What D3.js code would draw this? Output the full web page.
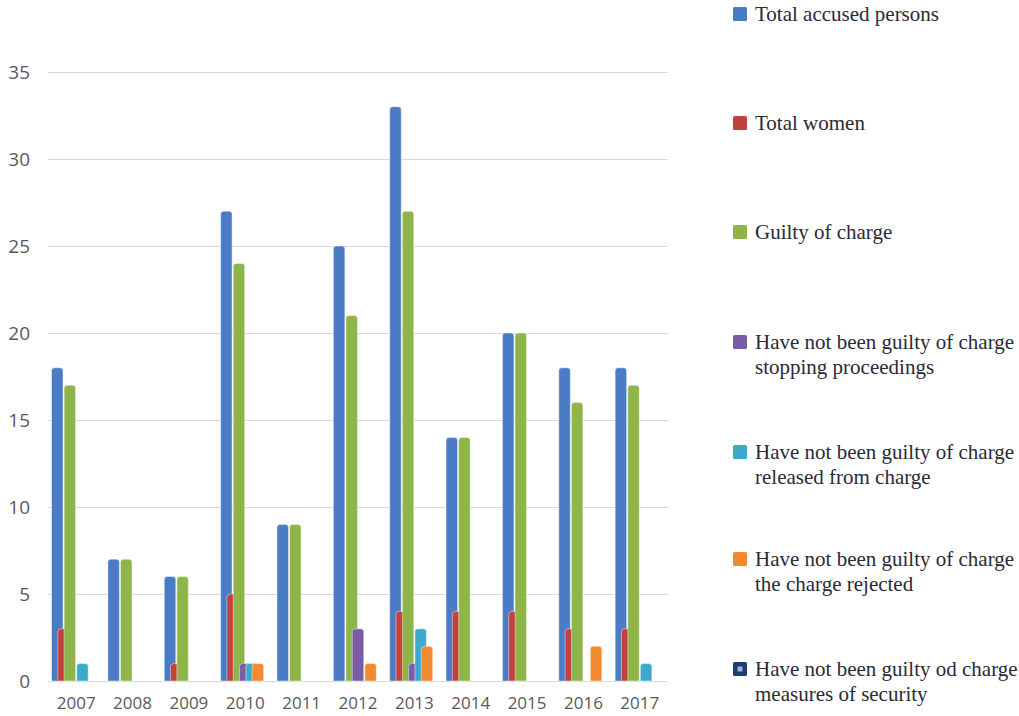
<!DOCTYPE html>
<html>
<head>
<meta charset="utf-8">
<script src="https://cdn.jsdelivr.net/npm/d3@7"></script>
<style>
  html, body { margin: 0; padding: 0; background: #fff; }
  svg { display: block; }
</style>
</head>
<body>
<svg id="chart" width="1019" height="716"></svg>
<script>
// Accused persons by year and outcome of the charge
const years = ["2007", "2008", "2009", "2010", "2011", "2012", "2013", "2014", "2015", "2016", "2017"];

const seriesNames = [
  ["Total accused persons"],
  ["Total women"],
  ["Guilty of charge"],
  ["Have not been guilty of charge", "stopping proceedings"],
  ["Have not been guilty of charge", "released from charge"],
  ["Have not been guilty of charge", "the charge rejected"],
  ["Have not been guilty od charge", "measures of security"]
];

const totalAccused   = [18, 7, 6, 27, 9, 25, 33, 14, 20, 18, 18];
const totalWomen     = [3, 0, 1, 5, 0, 0, 4, 4, 4, 3, 3];
const guilty         = [17, 7, 6, 24, 9, 21, 27, 14, 20, 16, 17];
const stopped        = [0, 0, 0, 1, 0, 3, 1, 0, 0, 0, 0];
const released       = [1, 0, 0, 1, 0, 0, 3, 0, 0, 0, 1];
const rejected       = [0, 0, 0, 1, 0, 1, 2, 0, 0, 2, 0];
const securityMeasures = [0, 0, 0, 0, 0, 0, 0, 0, 0, 0, 0];

const yTicks = [0, 5, 10, 15, 20, 25, 30, 35];

const seriesValues = [totalAccused, totalWomen, guilty, stopped, released, rejected, securityMeasures];
const colors = ["#4a7bc4", "#c3413c", "#8fb54a", "#7a5ca5", "#3fa9cc", "#f28a30", "#1f3d6e"];

const svg = d3.select("#chart");

const plot = { left: 48, right: 668, top: 72, bottom: 681 };

const x = d3.scaleBand().domain(years).range([plot.left, plot.right]).padding(0);
const y = d3.scaleLinear().domain([0, 35]).range([plot.bottom, plot.top]);

// bars inside a year overlap each other
const barW = 11.5;
const seriesIdx = d3.range(seriesValues.length);
const groupSpan = 6 * 6.3;
const xs = d3.scalePoint().domain(seriesIdx).range([0, groupSpan]);
const groupOffset = (x.bandwidth() - (groupSpan + barW)) / 2;

// gridlines
svg.append("g")
  .selectAll("line")
  .data(yTicks)
  .join("line")
  .attr("x1", plot.left)
  .attr("x2", plot.right)
  .attr("y1", d => Math.round(y(d)) + 0.5)
  .attr("y2", d => Math.round(y(d)) + 0.5)
  .attr("stroke", "#d9d9d9")
  .attr("stroke-width", 1);

// y tick labels
svg.append("g")
  .selectAll("text")
  .data(yTicks)
  .join("text")
  .attr("x", 30)
  .attr("y", d => y(d))
  .attr("dy", "0.35em")
  .attr("text-anchor", "end")
  .attr("font-family", "'Open Sans', 'Noto Sans', sans-serif")
  .attr("font-size", 19)
  .attr("fill", "#595959")
  .text(d => d);

// x labels
svg.append("g")
  .selectAll("text")
  .data(years)
  .join("text")
  .attr("x", d => x(d) + x.bandwidth() / 2)
  .attr("y", 703)
  .attr("dy", "0.35em")
  .attr("text-anchor", "middle")
  .attr("font-family", "'Open Sans', 'Noto Sans', sans-serif")
  .attr("font-size", 17)
  .attr("fill", "#595959")
  .text(d => d);

// rounded-top bar outline
function barPath(x0, w, yTop, yBase) {
  const h = yBase - yTop;
  const r = Math.min(3, h, w / 2);
  const p = d3.path();
  p.moveTo(x0, yBase);
  p.lineTo(x0, yTop + r);
  p.quadraticCurveTo(x0, yTop, x0 + r, yTop);
  p.lineTo(x0 + w - r, yTop);
  p.quadraticCurveTo(x0 + w, yTop, x0 + w, yTop + r);
  p.lineTo(x0 + w, yBase);
  p.closePath();
  return p.toString();
}

const bars = svg.append("g");
seriesValues.forEach((vals, si) => {
  bars.append("g")
    .selectAll("path")
    .data(years.map((yr, i) => ({ yr, v: vals[i] })).filter(d => d.v > 0))
    .join("path")
    .attr("d", d => barPath(x(d.yr) + groupOffset + xs(si), barW, y(d.v), y(0)))
    .attr("fill", colors[si])
    .attr("stroke", "#ffffff")
    .attr("stroke-opacity", 0.55)
    .attr("stroke-width", 0.8);
});

// legend
const legendY = [14, 123, 232, 342, 452, 559, 669];
const legend = svg.append("g");
seriesNames.forEach((lines, i) => {
  const g = legend.append("g").attr("transform", `translate(733, ${legendY[i]})`);
  g.append("rect")
    .attr("x", 0).attr("y", -7)
    .attr("width", 14).attr("height", 14)
    .attr("rx", 1.5)
    .attr("fill", colors[i]);
  if (i === 6) {
    g.append("rect")
      .attr("x", 4.5).attr("y", -2.5)
      .attr("width", 5).attr("height", 5)
      .attr("fill", "#9db4d8");
  }
  const t = g.append("text")
    .attr("font-family", "'Liberation Serif', 'Times New Roman', serif")
    .attr("font-size", 21)
    .attr("fill", "#2a2a38");
  lines.forEach((ln, k) => {
    t.append("tspan")
      .attr("x", 22)
      .attr("y", k * 25)
      .attr("dy", "0.35em")
      .text(ln);
  });
});
</script>
</body>
</html>
